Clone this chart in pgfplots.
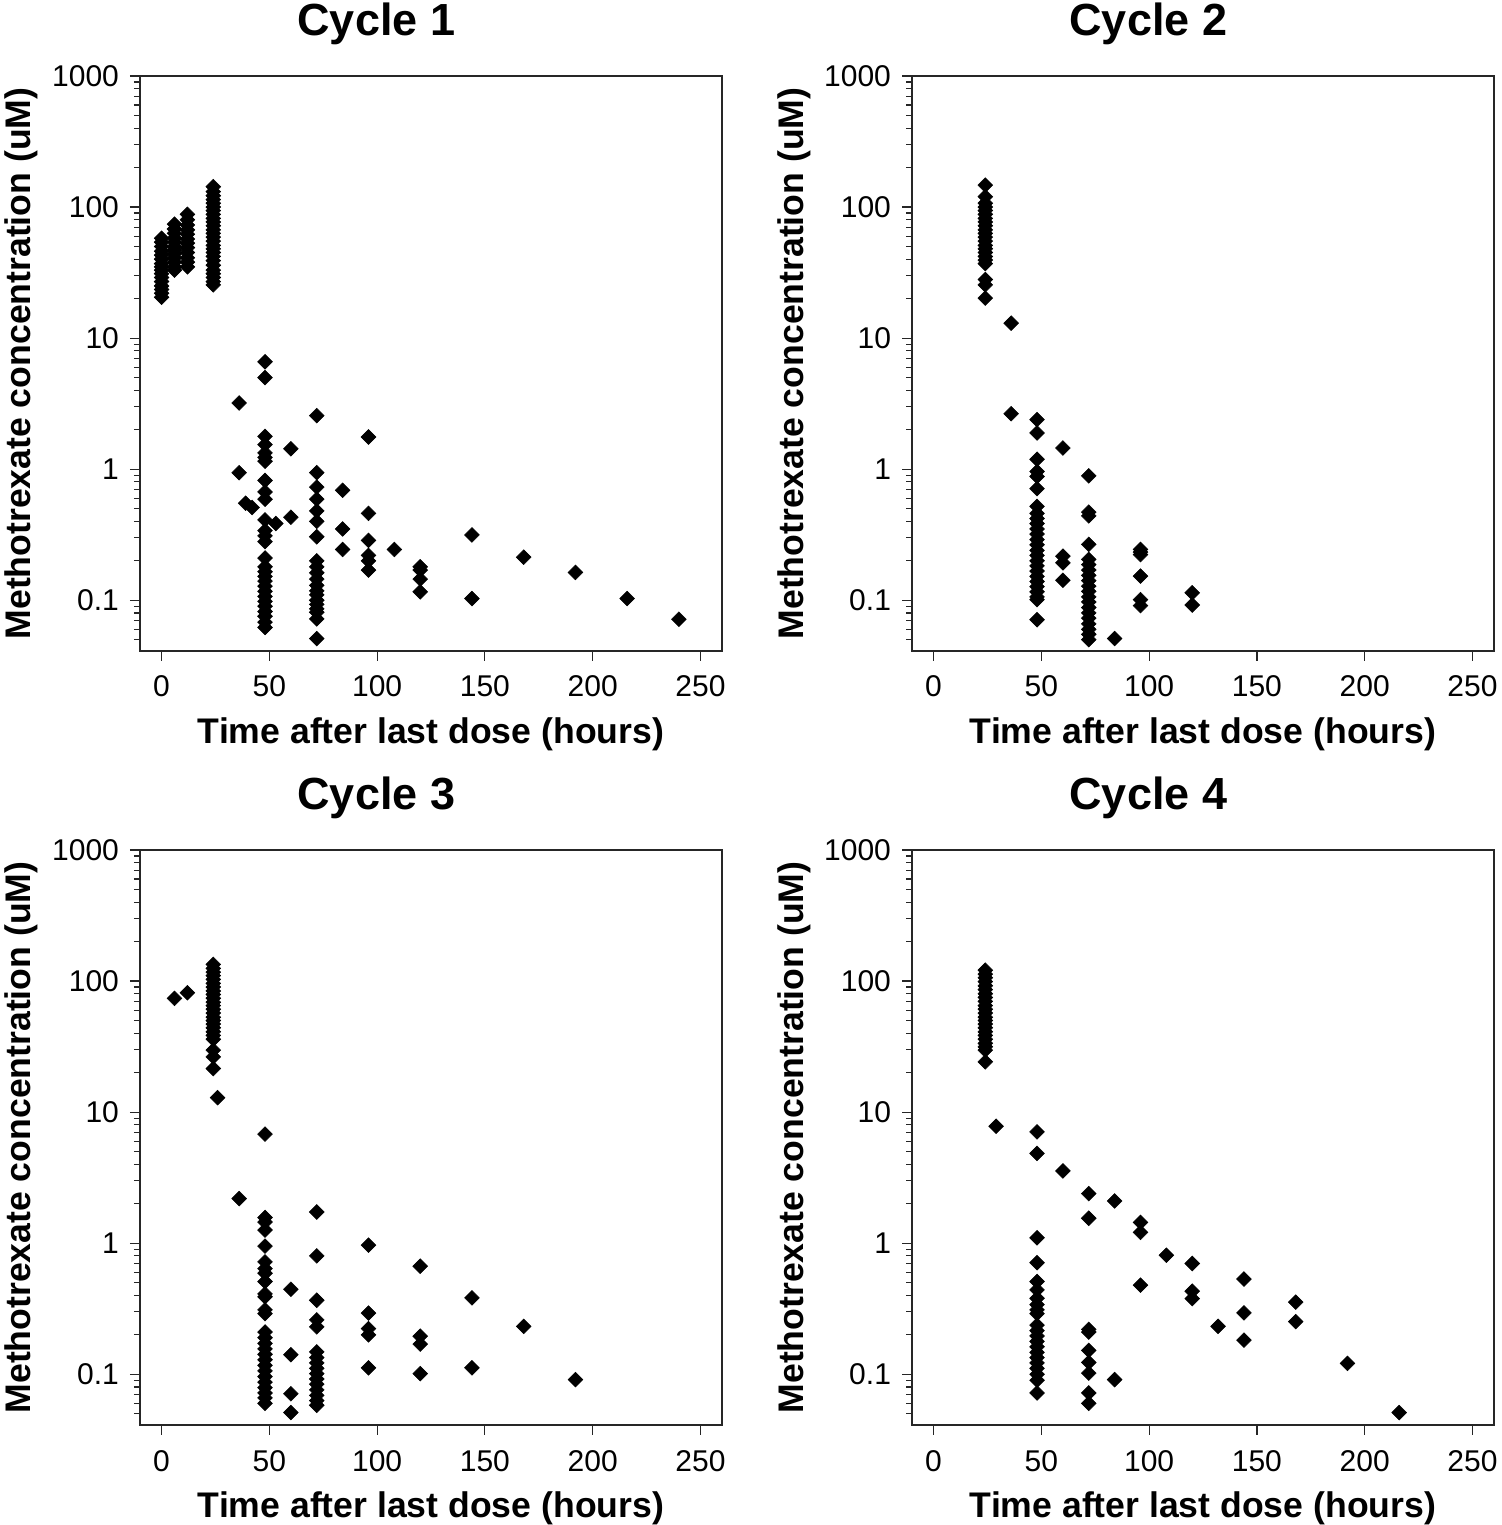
\documentclass[border=0pt]{standalone}
\usepackage{fontspec}
\setmainfont{Liberation Sans}
\usepackage{pgfplots}
\pgfplotsset{compat=1.18}
\begin{document}
\begin{tikzpicture}
\useasboundingbox (0,0) rectangle (750.5pt,762.5pt);
% Cycle 1
\begin{axis}[at={(70pt,437pt)}, anchor=south west, title={Cycle 1},
  scale only axis, width=291pt, height=287.5pt,
  xmin=-10, xmax=260, ymode=log, ymin=0.041, ymax=1000,
  xtick={0,50,100,150,200,250}, xticklabels={0,50,100,150,200,250},
  ytick={0.1,1,10,100,1000}, yticklabels={0.1,1,10,100,1000},
  minor ytick={0.05,0.06,0.07,0.08,0.09,0.2,0.3,0.4,0.5,0.6,0.7,0.8,0.9,2,3,4,5,6,7,8,9,20,30,40,50,60,70,80,90,200,300,400,500,600,700,800,900},
  tick pos=left, tick align=outside,
  major tick length=5pt, minor tick length=3pt,
  axis line style={line width=0.6pt, black!85},
  tick style={line width=0.6pt, black!85},
  ticklabel style={font=\fontsize{15}{18}\selectfont},
  xticklabel style={yshift=-4pt}, yticklabel style={xshift=-2pt},
  xlabel={Time after last dose (hours)},
  ylabel={Methotrexate concentration (uM)},
  label style={font=\bfseries\fontsize{17.8}{21}\selectfont},
  xlabel style={at={(axis description cs:0.5,-0.1617)}, anchor=base},
  ylabel style={at={(axis description cs:-0.1873,0.5)}, anchor=base},
  title style={at={(axis description cs:0.406,1.0487)}, anchor=base, font=\bfseries\fontsize{22.5}{26}\selectfont}]
\addplot[only marks, mark=square*, mark size=2.6pt, mark options={rotate=45, fill=black, draw=black, line width=0.3pt}] coordinates {
(0,20.5)(0,22)(0,23.5)(0,25)(0,27)(0,29)(0,31)(0,33)(0,35)(0,37)(0,40)(0,43)(0,46)(0,50)(0,54)(0,57.8)
(6,33)(6,35)(6,38)(6,41)(6,44)(6,47)(6,50)(6,54)(6,58)(6,63)(6,68)(6,74)
(12,35)(12,38)(12,41)(12,45)(12,49)(12,53)(12,57)(12,62)(12,67)(12,73)(12,80)(12,88)
(24,25.5)(24,27)(24,29)(24,31)(24,33)(24,36)(24,39)(24,42)(24,45)(24,48)(24,51)(24,55)(24,59)(24,63)(24,67)(24,72)(24,77)(24,82)(24,88)(24,94)(24,100)(24,107)(24,114)(24,122)(24,131)(24,143)
(36,3.2)(36,0.94)(39,0.55)(42,0.51)
(48,6.6)(48,5.0)(48,1.78)(48,1.54)(48,1.33)(48,1.23)(48,1.15)(48,0.82)(48,0.67)(48,0.59)(48,0.41)(48,0.34)(48,0.31)(48,0.28)(48,0.21)(48,0.18)(48,0.165)(48,0.152)(48,0.14)(48,0.128)(48,0.117)(48,0.107)(48,0.098)(48,0.09)(48,0.082)(48,0.0755)(48,0.068)(48,0.062)
(53,0.385)(60,1.43)(60,0.43)
(72,2.56)(72,0.94)(72,0.73)(72,0.59)(72,0.48)(72,0.40)(72,0.305)(72,0.2)(72,0.18)(72,0.162)(72,0.145)(72,0.13)(72,0.118)(72,0.11)(72,0.1)(72,0.093)(72,0.086)(72,0.081)(72,0.072)(72,0.051)
(84,0.69)(84,0.35)(84,0.244)
(96,1.76)(96,0.46)(96,0.286)(96,0.22)(96,0.2)(96,0.17)
(108,0.244)
(120,0.18)(120,0.17)(120,0.145)(120,0.116)
(144,0.315)(144,0.103)(168,0.213)(192,0.163)(216,0.103)(240,0.0716)
};
\end{axis}
% Cycle 2
\begin{axis}[at={(456pt,437pt)}, anchor=south west, title={Cycle 2},
  scale only axis, width=291pt, height=287.5pt,
  xmin=-10, xmax=260, ymode=log, ymin=0.041, ymax=1000,
  xtick={0,50,100,150,200,250}, xticklabels={0,50,100,150,200,250},
  ytick={0.1,1,10,100,1000}, yticklabels={0.1,1,10,100,1000},
  minor ytick={0.05,0.06,0.07,0.08,0.09,0.2,0.3,0.4,0.5,0.6,0.7,0.8,0.9,2,3,4,5,6,7,8,9,20,30,40,50,60,70,80,90,200,300,400,500,600,700,800,900},
  tick pos=left, tick align=outside,
  major tick length=5pt, minor tick length=3pt,
  axis line style={line width=0.6pt, black!85},
  tick style={line width=0.6pt, black!85},
  ticklabel style={font=\fontsize{15}{18}\selectfont},
  xticklabel style={yshift=-4pt}, yticklabel style={xshift=-2pt},
  xlabel={Time after last dose (hours)},
  ylabel={Methotrexate concentration (uM)},
  label style={font=\bfseries\fontsize{17.8}{21}\selectfont},
  xlabel style={at={(axis description cs:0.5,-0.1617)}, anchor=base},
  ylabel style={at={(axis description cs:-0.1873,0.5)}, anchor=base},
  title style={at={(axis description cs:0.406,1.0487)}, anchor=base, font=\bfseries\fontsize{22.5}{26}\selectfont}]
\addplot[only marks, mark=square*, mark size=2.6pt, mark options={rotate=45, fill=black, draw=black, line width=0.3pt}] coordinates {
(24,147)(24,120)(24,107)(24,100)(24,94)(24,88)(24,82)(24,77)(24,72)(24,67)(24,63)(24,59)(24,55)(24,51)(24,48)(24,45)(24,42)(24,39.4)(24,37)(24,28)(24,25.5)(24,20.2)
(36,13)(36,2.65)
(48,2.39)(48,1.89)(48,1.19)(48,0.96)(48,0.88)(48,0.71)(48,0.52)(48,0.46)(48,0.42)(48,0.385)(48,0.35)(48,0.32)(48,0.29)(48,0.265)(48,0.24)(48,0.22)(48,0.2)(48,0.183)(48,0.167)(48,0.152)(48,0.139)(48,0.127)(48,0.116)(48,0.106)(48,0.101)(48,0.071)
(60,1.45)(60,0.217)(60,0.193)(60,0.142)
(72,0.89)(72,0.47)(72,0.44)(72,0.267)(72,0.205)(72,0.187)(72,0.17)(72,0.155)(72,0.141)(72,0.128)(72,0.117)(72,0.106)(72,0.097)(72,0.088)(72,0.08)(72,0.073)(72,0.066)(72,0.06)(72,0.055)(72,0.05)
(84,0.051)
(96,0.244)(96,0.233)(96,0.223)(96,0.153)(96,0.101)(96,0.091)
(120,0.114)(120,0.092)
};
\end{axis}
% Cycle 3
\begin{axis}[at={(70pt,50pt)}, anchor=south west, title={Cycle 3},
  scale only axis, width=291pt, height=287.5pt,
  xmin=-10, xmax=260, ymode=log, ymin=0.041, ymax=1000,
  xtick={0,50,100,150,200,250}, xticklabels={0,50,100,150,200,250},
  ytick={0.1,1,10,100,1000}, yticklabels={0.1,1,10,100,1000},
  minor ytick={0.05,0.06,0.07,0.08,0.09,0.2,0.3,0.4,0.5,0.6,0.7,0.8,0.9,2,3,4,5,6,7,8,9,20,30,40,50,60,70,80,90,200,300,400,500,600,700,800,900},
  tick pos=left, tick align=outside,
  major tick length=5pt, minor tick length=3pt,
  axis line style={line width=0.6pt, black!85},
  tick style={line width=0.6pt, black!85},
  ticklabel style={font=\fontsize{15}{18}\selectfont},
  xticklabel style={yshift=-4pt}, yticklabel style={xshift=-2pt},
  xlabel={Time after last dose (hours)},
  ylabel={Methotrexate concentration (uM)},
  label style={font=\bfseries\fontsize{17.8}{21}\selectfont},
  xlabel style={at={(axis description cs:0.5,-0.1617)}, anchor=base},
  ylabel style={at={(axis description cs:-0.1873,0.5)}, anchor=base},
  title style={at={(axis description cs:0.406,1.0487)}, anchor=base, font=\bfseries\fontsize{22.5}{26}\selectfont}]
\addplot[only marks, mark=square*, mark size=2.6pt, mark options={rotate=45, fill=black, draw=black, line width=0.3pt}] coordinates {
(6,73.8)(12,81.4)
(24,134)(24,125)(24,117)(24,110)(24,103)(24,96)(24,90)(24,84)(24,79)(24,74)(24,69)(24,65)(24,61)(24,57)(24,53)(24,50)(24,47)(24,44)(24,41)(24,38.5)(24,36)(24,29.7)(24,26.4)(24,21.5)
(26,12.9)(36,2.19)
(48,6.8)(48,1.57)(48,1.45)(48,1.26)(48,0.95)(48,0.72)(48,0.64)(48,0.59)(48,0.51)(48,0.41)(48,0.39)(48,0.31)(48,0.29)(48,0.21)(48,0.19)(48,0.172)(48,0.156)(48,0.142)(48,0.129)(48,0.117)(48,0.106)(48,0.096)(48,0.087)(48,0.079)(48,0.072)(48,0.066)(48,0.06)
(60,0.445)(60,0.141)(60,0.071)(60,0.051)
(72,1.73)(72,0.8)(72,0.367)(72,0.26)(72,0.23)(72,0.148)(72,0.134)(72,0.122)(72,0.111)(72,0.101)(72,0.092)(72,0.084)(72,0.076)(72,0.069)(72,0.063)(72,0.058)
(96,0.966)(96,0.293)(96,0.223)(96,0.2)(96,0.112)
(120,0.667)(120,0.195)(120,0.17)(120,0.101)
(144,0.383)(144,0.112)(168,0.232)(192,0.091)
};
\end{axis}
% Cycle 4
\begin{axis}[at={(456pt,50pt)}, anchor=south west, title={Cycle 4},
  scale only axis, width=291pt, height=287.5pt,
  xmin=-10, xmax=260, ymode=log, ymin=0.041, ymax=1000,
  xtick={0,50,100,150,200,250}, xticklabels={0,50,100,150,200,250},
  ytick={0.1,1,10,100,1000}, yticklabels={0.1,1,10,100,1000},
  minor ytick={0.05,0.06,0.07,0.08,0.09,0.2,0.3,0.4,0.5,0.6,0.7,0.8,0.9,2,3,4,5,6,7,8,9,20,30,40,50,60,70,80,90,200,300,400,500,600,700,800,900},
  tick pos=left, tick align=outside,
  major tick length=5pt, minor tick length=3pt,
  axis line style={line width=0.6pt, black!85},
  tick style={line width=0.6pt, black!85},
  ticklabel style={font=\fontsize{15}{18}\selectfont},
  xticklabel style={yshift=-4pt}, yticklabel style={xshift=-2pt},
  xlabel={Time after last dose (hours)},
  ylabel={Methotrexate concentration (uM)},
  label style={font=\bfseries\fontsize{17.8}{21}\selectfont},
  xlabel style={at={(axis description cs:0.5,-0.1617)}, anchor=base},
  ylabel style={at={(axis description cs:-0.1873,0.5)}, anchor=base},
  title style={at={(axis description cs:0.406,1.0487)}, anchor=base, font=\bfseries\fontsize{22.5}{26}\selectfont}]
\addplot[only marks, mark=square*, mark size=2.6pt, mark options={rotate=45, fill=black, draw=black, line width=0.3pt}] coordinates {
(24,121)(24,113)(24,106)(24,99)(24,92)(24,86)(24,80)(24,75)(24,70)(24,65)(24,61)(24,57)(24,53)(24,50)(24,47)(24,44)(24,41)(24,38.5)(24,36)(24,33.5)(24,31.5)(24,29.7)(24,24.2)
(29,7.8)
(48,7.07)(48,4.84)(48,1.1)(48,0.71)(48,0.51)(48,0.44)(48,0.38)(48,0.34)(48,0.31)(48,0.29)(48,0.237)(48,0.215)(48,0.196)(48,0.178)(48,0.162)(48,0.147)(48,0.134)(48,0.122)(48,0.111)(48,0.1)(48,0.09)(48,0.072)
(60,3.56)
(72,2.39)(72,1.55)(72,0.22)(72,0.21)(72,0.152)(72,0.123)(72,0.102)(72,0.072)(72,0.06)
(84,2.1)(84,0.091)
(96,1.44)(96,1.21)(96,0.478)
(108,0.81)
(120,0.70)(120,0.43)(120,0.378)
(132,0.232)
(144,0.533)(144,0.294)(144,0.182)
(168,0.355)(168,0.252)
(192,0.121)(216,0.051)
};
\end{axis}
\end{tikzpicture}
\end{document}
